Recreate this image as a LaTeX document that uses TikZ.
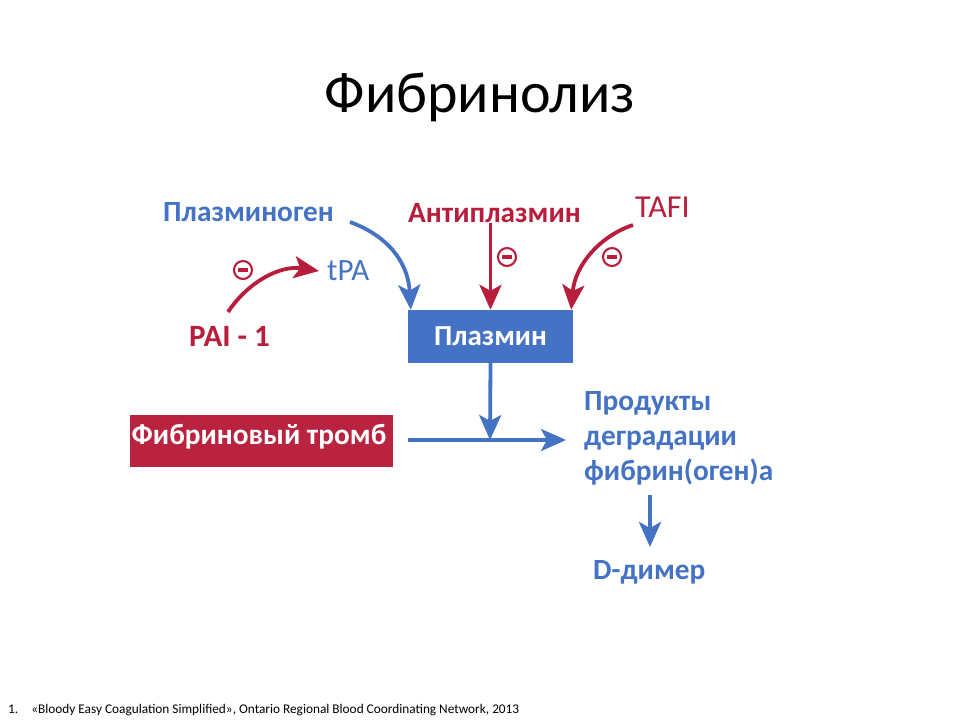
\documentclass[tikz,border=0pt]{standalone}
\usepackage{fontspec}
\setmainfont{Carlito}
\usetikzlibrary{arrows.meta}
\definecolor{cblue}{RGB}{68,114,196}
\definecolor{cred}{RGB}{184,30,60}
\definecolor{cboxred}{RGB}{186,35,64}
\tikzset{
  lbl/.style={inner sep=0pt, font=\fontsize{29.3}{35}\selectfont\bfseries},
  bluelbl/.style={lbl, text=cblue},
  redlbl/.style={lbl, text=cred},
  conn/.style={line width=3.8pt, -{Stealth[length=25pt,width=22pt,inset=6pt]}},
  blueconn/.style={conn, draw=cblue},
  redconn/.style={conn, draw=cred},
  inhib/.style={circle, draw=cred, line width=2.1pt, minimum size=18pt, inner sep=0pt,
    path picture={\fill[cred] ([xshift=-4.8pt,yshift=-1.8pt]path picture bounding box.center) rectangle +(9.6pt,3.6pt);}},
}
\begin{document}
\begin{tikzpicture}[x=1pt,y=-1pt]
\useasboundingbox (0,0) rectangle (960,720);
% title
\node[inner sep=0pt, font=\fontsize{58}{64}\selectfont] (title) at (480,97) {Фибринолиз};
% labels
\node[bluelbl, anchor=west] (plg) at (163,212) {Плазминоген};
\node[redlbl, anchor=west] (ap) at (408,213) {Антиплазмин};
\node[inner sep=0pt, anchor=west, text=cred, font=\fontsize{32}{36}\selectfont] (tafi) at (635,207) {TAFI};
\node[inner sep=0pt, anchor=west, text=cblue, font=\fontsize{31}{34}\selectfont] (tpa) at (327,271) {tPA};
\node[inner sep=0pt, anchor=west, text=cred, font=\fontsize{31}{34}\selectfont\bfseries] (pai) at (189,336) {PAI - 1};
% boxes
\node[fill=cblue, minimum width=165pt, minimum height=53pt, inner sep=0pt, text=white,
  font=\fontsize{29}{34}\selectfont\bfseries] (plasmin) at (490.5,336.5) {Плазмин};
\node[fill=cboxred, minimum width=263pt, minimum height=52pt, inner sep=0pt] (thr) at (261.5,441) {};
\node[inner sep=0pt, text=white, font=\fontsize{29.3}{34}\selectfont\bfseries] (thrtxt) at (259,437) {Фибриновый тромб};
% products
\node[bluelbl, anchor=north west, align=left] (fdp) at (584,391) {Продукты\\деградации\\фибрин(оген)а};
\node[bluelbl, anchor=west] (dd) at (593,572) {D-димер};
% inhibition signs
\node[inhib] (i1) at (243,270) {};
\node[inhib] (i2) at (507,257) {};
\node[inhib] (i3) at (612,257) {};
% coordinates
\coordinate (plgs) at (350,222);
\coordinate (pais) at (228,312);
\coordinate (tafis) at (633,225);
\coordinate (hs) at (408,440);
\coordinate (he) at (566,440);
\coordinate (hm) at (490,440);
\coordinate (ds) at (650,495);
\coordinate (de) at (650,547);
% connectors
\draw[blueconn] (plgs) .. controls (388,236) and (408,262) .. ([xshift=3pt]plasmin.north west);
\draw[redconn] (pais) .. controls (248,282) and (280,265) .. ([xshift=-8pt]tpa.west);
\draw[redconn] (ap.south -| plasmin.north) -- (plasmin.north);
\draw[redconn] (tafis) .. controls (600,236) and (575,265) .. ([xshift=-2pt]plasmin.north east);
\draw[blueconn] (plasmin.south) -- (hm);
\draw[blueconn] (hs) -- (he);
\draw[blueconn] (ds) -- (de);
% footnote
\node[inner sep=0pt, anchor=west, font=\fontsize{13.3}{15}\selectfont] (fn) at (8,710) {1.\hspace{13pt}«Bloody Easy Coagulation Simplified», Ontario Regional Blood Coordinating Network, 2013};
\end{tikzpicture}
\end{document}
